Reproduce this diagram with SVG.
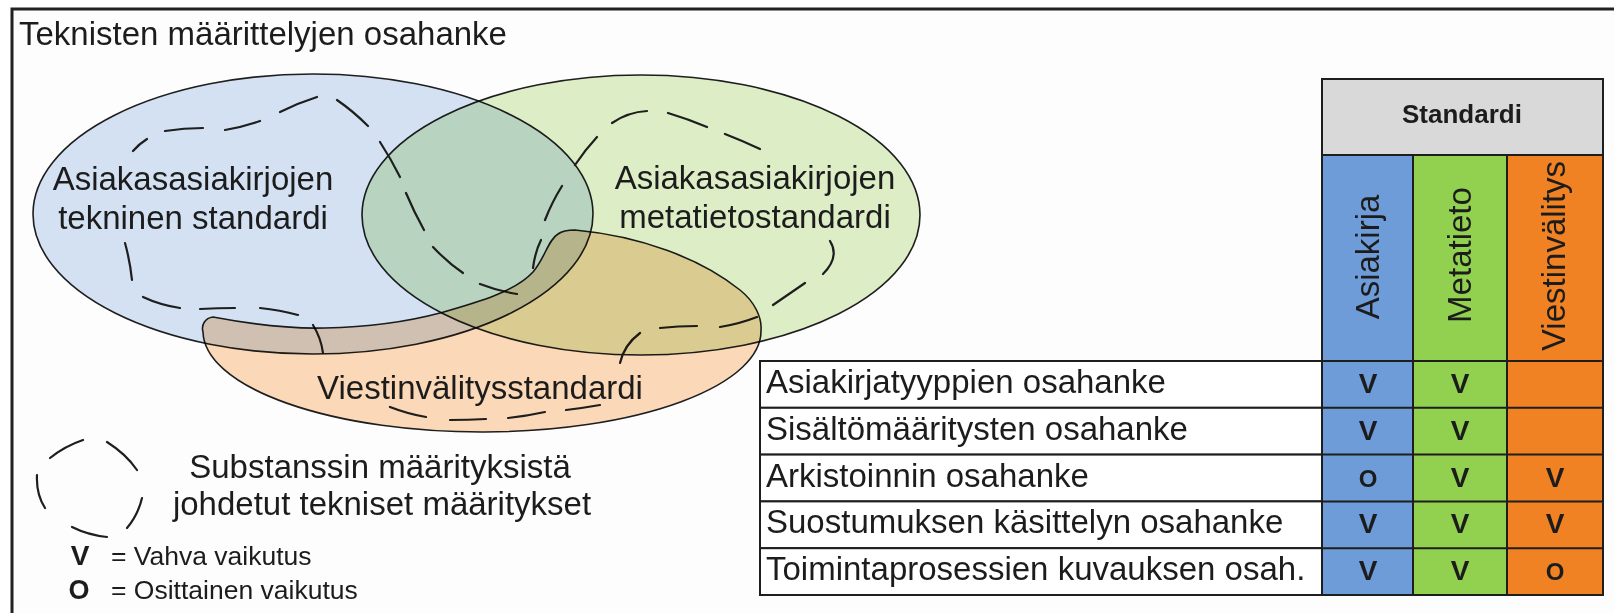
<svg xmlns="http://www.w3.org/2000/svg" width="1614" height="613" viewBox="0 0 1614 613">
<style>
text{font-family:"Liberation Sans",Arial,sans-serif;fill:#1c1c1c}
.t{font-size:33px}
.c{text-anchor:middle}
.lg{font-size:26.5px}
.mk{font-size:28px;font-weight:bold;text-anchor:middle}
.mo{font-size:24px;font-weight:bold;text-anchor:middle}
.set{stroke:#1e1e1e;stroke-width:1.6}
.mul{mix-blend-mode:multiply}
.dash{fill:none;stroke:#1e1e1e;stroke-width:2.2;stroke-linecap:round}
.cell{stroke:#1e1e1e;stroke-width:2}
.row{fill:#fff;stroke:#1e1e1e;stroke-width:2}
</style>
<rect width="1614" height="613" fill="#fff"/>
<g id="frame">
<rect x="12" y="9" width="1620" height="620" fill="#fdfdfd" stroke="#222" stroke-width="3"/>
<text class="t" x="19" y="45">Teknisten määrittelyjen osahanke</text>
</g>
<g id="venn">
<g id="set-tekninen">
<ellipse class="set" cx="313" cy="214" rx="280" ry="140" fill="#d3e1f3"/>
<text class="t c" x="193" y="190">Asiakasasiakirjojen</text>
<text class="t c" x="193" y="229">tekninen standardi</text>
</g>
<g id="set-metatieto" class="mul">
<ellipse class="set" cx="641" cy="215" rx="279" ry="140" fill="#dff0c9"/>
<text class="t c" x="755" y="189">Asiakasasiakirjojen</text>
<text class="t c" x="755" y="228">metatietostandardi</text>
</g>
<g id="derived-specs">
<path class="dash" d="M133,151 Q139,144 147,139 M165,131 Q184,128 203,128 M225,130 Q243,127 260,121 M280,112 Q298,103 317,97 M337,100 Q353,111 368,126 M380,142 Q391,159 400,177 M406,193 Q414,212 424,230 M433,247 Q447,262 463,273 M480,284 Q498,291 517,294 M125,243 Q130,261 132,280 M143,297 Q160,305 180,308 M200,309 Q218,308 235,308 M260,308 Q280,310 298,315 M313,325 Q321,338 323,353"/>
<path class="dash" d="M533,268 Q535,252 541,240 M545,220 Q552,202 562,186 M575,165 Q585,150 597,137 M612,123 Q628,112 647,111 M668,113 Q688,119 707,127 M725,134 Q743,141 760,149 M830,241 Q840,257 823,274 M805,283 Q789,294 773,305 M757,317 Q739,324 720,327 M697,326 Q678,326 660,328 M640,333 Q624,345 620,363"/>
</g>
<g id="set-viestinvalitys" class="mul">
<path class="set" fill="#fcdaba" d="M213,317 C250,324 290,329 325,328 C370,327 410,321 440,313 C475,303 515,292 533,272 C545,258 548,240 558,234 C562,231 568,230 575,230 C640,236 700,258 740,290 C755,302 762,318 761,330 A279,101 0 0 1 203,332 C201,325 205,318 213,317 Z"/>
<text class="t c" x="480" y="399">Viestinvälitysstandardi</text>
<path class="dash" d="M390,407 Q408,414 426,417 M450,420 Q468,420 486,419 M508,418 Q527,416 545,412 M566,410 Q583,408 600,405"/>
</g>
</g>
<g id="legend">
<path class="dash" d="M50,458 Q65,446 83,440 M107,442 Q126,454 137,470 M37,475 Q36,494 45,508 M72,527 Q88,535 107,537 M142,498 Q138,515 127,528"/>
<text class="t c" x="380" y="478">Substanssin määrityksistä</text>
<text class="t c" x="382" y="515">johdetut tekniset määritykset</text>
<text class="mk" x="80" y="565">V</text>
<text class="lg" x="111" y="565">= Vahva vaikutus</text>
<text class="mo" x="79" y="599" style="font-size:27px">O</text>
<text class="lg" x="111" y="599">= Osittainen vaikutus</text>
</g>
<g id="matrix">
<g id="hdr-standardi">
<rect class="cell" x="1322" y="79" width="281" height="76" fill="#d9d9d9"/>
<text x="1462" y="123" class="c" style="font-size:26px;font-weight:bold">Standardi</text>
</g>
<g id="col-asiakirja">
<rect class="cell" x="1322" y="155" width="91" height="440" fill="#6e9cd9"/>
<text class="t c" transform="translate(1379,257) rotate(-90)">Asiakirja</text>
</g>
<g id="col-metatieto">
<rect class="cell" x="1413" y="155" width="94" height="440" fill="#92d150"/>
<text class="t c" transform="translate(1471,255) rotate(-90)">Metatieto</text>
</g>
<g id="col-viestinvalitys">
<rect class="cell" x="1507" y="155" width="96" height="440" fill="#f08224"/>
<text class="t c" transform="translate(1565,256) rotate(-90)">Viestinvälitys</text>
</g>
<g id="row1">
<rect class="row" x="760" y="361" width="562" height="46.8"/>
<path class="cell" d="M1322,407.8 H1603"/>
<text class="t" x="766" y="393">Asiakirjatyyppien osahanke</text>
<text class="mk" x="1368" y="393">V</text><text class="mk" x="1460" y="393">V</text>
</g>
<g id="row2">
<rect class="row" x="760" y="407.8" width="562" height="46.8"/>
<path class="cell" d="M1322,454.6 H1603"/>
<text class="t" x="766" y="440">Sisältömääritysten osahanke</text>
<text class="mk" x="1368" y="440">V</text><text class="mk" x="1460" y="440">V</text>
</g>
<g id="row3">
<rect class="row" x="760" y="454.6" width="562" height="46.8"/>
<path class="cell" d="M1322,501.4 H1603"/>
<text class="t" x="766" y="486.5">Arkistoinnin osahanke</text>
<text class="mo" x="1368" y="486.5">O</text><text class="mk" x="1460" y="486.5">V</text><text class="mk" x="1555" y="486.5">V</text>
</g>
<g id="row4">
<rect class="row" x="760" y="501.4" width="562" height="46.8"/>
<path class="cell" d="M1322,548.2 H1603"/>
<text class="t" x="766" y="533">Suostumuksen käsittelyn osahanke</text>
<text class="mk" x="1368" y="533">V</text><text class="mk" x="1460" y="533">V</text><text class="mk" x="1555" y="533">V</text>
</g>
<g id="row5">
<rect class="row" x="760" y="548.2" width="562" height="46.8"/>
<path class="cell" d="M1322,595 H1603 M1322,361 H1603"/>
<text class="t" x="766" y="580">Toimintaprosessien kuvauksen osah.</text>
<text class="mk" x="1368" y="580">V</text><text class="mk" x="1460" y="580">V</text><text class="mo" x="1555" y="580">O</text>
</g>
</g>
</svg>
